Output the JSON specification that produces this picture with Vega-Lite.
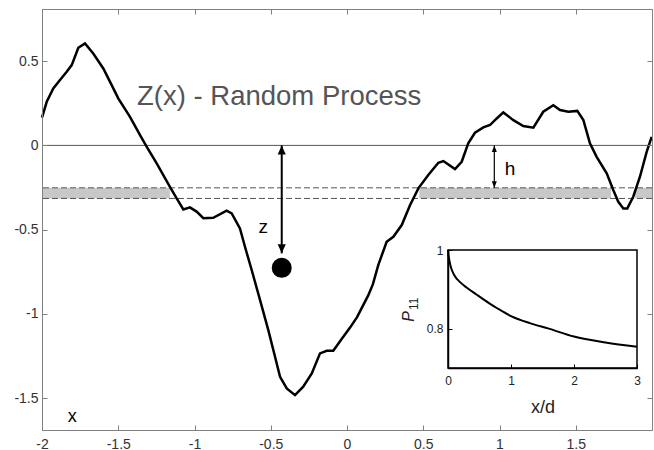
{
  "$schema": "https://vega.github.io/schema/vega-lite/v6.json",
  "width": 610,
  "height": 421,
  "autosize": {"type": "none"},
  "padding": {"left": 42, "top": 9, "right": 2, "bottom": 20},
  "background": "white",
  "config": {"view": {"stroke": "#808080", "strokeWidth": 1}, "font": "Liberation Sans", "axis": {"grid": false}},
  "datasets": {
    "process": [
      {"x": -2.0, "z": 0.165}, {"x": -1.969, "z": 0.259}, {"x": -1.926, "z": 0.338}, {"x": -1.882, "z": 0.388},
      {"x": -1.838, "z": 0.437}, {"x": -1.805, "z": 0.477}, {"x": -1.762, "z": 0.58}, {"x": -1.718, "z": 0.606},
      {"x": -1.664, "z": 0.546}, {"x": -1.598, "z": 0.457}, {"x": -1.543, "z": 0.358}, {"x": -1.5, "z": 0.279},
      {"x": -1.423, "z": 0.17}, {"x": -1.357, "z": 0.061}, {"x": -1.313, "z": -0.008}, {"x": -1.248, "z": -0.107},
      {"x": -1.161, "z": -0.246}, {"x": -1.117, "z": -0.315}, {"x": -1.073, "z": -0.38}, {"x": -1.03, "z": -0.368},
      {"x": -0.986, "z": -0.393}, {"x": -0.942, "z": -0.432}, {"x": -0.877, "z": -0.43}, {"x": -0.789, "z": -0.388},
      {"x": -0.756, "z": -0.404}, {"x": -0.702, "z": -0.493}, {"x": -0.669, "z": -0.602}, {"x": -0.625, "z": -0.74},
      {"x": -0.57, "z": -0.919}, {"x": -0.516, "z": -1.097}, {"x": -0.472, "z": -1.255}, {"x": -0.439, "z": -1.374},
      {"x": -0.395, "z": -1.443}, {"x": -0.341, "z": -1.483}, {"x": -0.287, "z": -1.433}, {"x": -0.231, "z": -1.354},
      {"x": -0.177, "z": -1.235}, {"x": -0.133, "z": -1.22}, {"x": -0.09, "z": -1.219}, {"x": -0.035, "z": -1.15},
      {"x": 0.02, "z": -1.082}, {"x": 0.066, "z": -1.02}, {"x": 0.14, "z": -0.889}, {"x": 0.17, "z": -0.824},
      {"x": 0.205, "z": -0.711}, {"x": 0.26, "z": -0.572}, {"x": 0.304, "z": -0.543}, {"x": 0.359, "z": -0.473},
      {"x": 0.413, "z": -0.355}, {"x": 0.468, "z": -0.255}, {"x": 0.533, "z": -0.176}, {"x": 0.599, "z": -0.103},
      {"x": 0.632, "z": -0.093}, {"x": 0.708, "z": -0.141}, {"x": 0.752, "z": -0.097}, {"x": 0.795, "z": 0.012},
      {"x": 0.839, "z": 0.075}, {"x": 0.894, "z": 0.107}, {"x": 0.938, "z": 0.121}, {"x": 0.982, "z": 0.16},
      {"x": 1.025, "z": 0.196}, {"x": 1.091, "z": 0.15}, {"x": 1.156, "z": 0.115}, {"x": 1.222, "z": 0.105},
      {"x": 1.287, "z": 0.2}, {"x": 1.353, "z": 0.239}, {"x": 1.397, "z": 0.21}, {"x": 1.451, "z": 0.2},
      {"x": 1.51, "z": 0.205}, {"x": 1.55, "z": 0.15}, {"x": 1.593, "z": 0.012}, {"x": 1.637, "z": -0.068},
      {"x": 1.703, "z": -0.166}, {"x": 1.746, "z": -0.265}, {"x": 1.779, "z": -0.335}, {"x": 1.812, "z": -0.374},
      {"x": 1.838, "z": -0.374}, {"x": 1.877, "z": -0.305}, {"x": 1.921, "z": -0.186}, {"x": 1.965, "z": -0.038},
      {"x": 1.998, "z": 0.051}
    ],
    "p11": [
      {"xd": 0, "p": 1.0}, {"xd": 0.01, "p": 0.985}, {"xd": 0.03, "p": 0.967}, {"xd": 0.05, "p": 0.954},
      {"xd": 0.1, "p": 0.936}, {"xd": 0.2, "p": 0.917}, {"xd": 0.3, "p": 0.904}, {"xd": 0.45, "p": 0.887},
      {"xd": 0.65, "p": 0.865}, {"xd": 0.8, "p": 0.85}, {"xd": 1.0, "p": 0.832}, {"xd": 1.3, "p": 0.814},
      {"xd": 1.6, "p": 0.8}, {"xd": 2.0, "p": 0.78}, {"xd": 2.5, "p": 0.765}, {"xd": 3.0, "p": 0.754}
    ],
    "band": [
      {"x0": -2.0, "x1": -1.161}, {"x0": 0.474, "x1": 1.731}, {"x0": 1.889, "x1": 2.0}
    ],
    "levels": [{"level": -0.252}, {"level": -0.315}],
    "one": [{}]
  },
  "layer": [
    {
      "data": {"name": "band"},
      "mark": {"type": "rect", "color": "#c8c8c8"},
      "encoding": {
        "x": {"field": "x0", "type": "quantitative", "scale": {"domain": [-2, 2], "nice": false, "zero": false},
          "axis": {"orient": "top", "labels": false, "tickSize": -5, "values": [-2, -1.5, -1, -0.5, 0, 0.5, 1, 1.5], "title": null, "domainColor": "#808080", "tickColor": "#808080", "zindex": 1}},
        "x2": {"field": "x1"},
        "y": {"datum": -0.252, "axis": null, "scale": {"domain": [-1.69, 0.81], "nice": false, "zero": false}},
        "y2": {"datum": -0.315}
      }
    },
    {
      "data": {"name": "levels"},
      "mark": {"type": "rule", "color": "#555555", "strokeWidth": 1, "strokeDash": [6, 3]},
      "encoding": {
        "y": {"field": "level", "type": "quantitative", "scale": {"domain": [-1.69, 0.81], "nice": false, "zero": false},
          "axis": {"orient": "right", "labels": false, "tickSize": -5, "values": [0.5, 0, -0.5, -1, -1.5], "title": null, "domainColor": "#808080", "tickColor": "#808080", "zindex": 1}}
      }
    },
    {
      "data": {"name": "one"},
      "mark": {"type": "rule", "color": "#555555", "strokeWidth": 1},
      "encoding": {"y": {"datum": 0, "axis": null, "scale": {"domain": [-1.69, 0.81], "nice": false, "zero": false}}}
    },
    {
      "data": {"name": "process"},
      "mark": {"type": "line", "color": "black", "strokeWidth": 2.5},
      "encoding": {
        "x": {"field": "x", "type": "quantitative", "scale": {"domain": [-2, 2], "nice": false, "zero": false},
          "axis": {"orient": "bottom", "values": [-2, -1.5, -1, -0.5, 0, 0.5, 1, 1.5], "tickSize": -5, "labelPadding": 12, "labelExpr": "'' + datum.value", "title": null, "domainColor": "#808080", "tickColor": "#808080", "labelColor": "#333333", "labelFontSize": 14, "labelFont": "Liberation Sans", "labelFlush": false, "labelOverlap": false, "zindex": 1}},
        "y": {"field": "z", "type": "quantitative", "scale": {"domain": [-1.69, 0.81], "nice": false, "zero": false},
          "axis": {"orient": "left", "values": [0.5, 0, -0.5, -1, -1.5], "tickSize": -5, "labelPadding": 9, "labelExpr": "'' + datum.value", "title": null, "domainColor": "#808080", "tickColor": "#808080", "labelColor": "#333333", "labelFontSize": 14, "labelFont": "Liberation Sans", "labelFlush": false, "labelOverlap": false, "zindex": 1}}
      }
    },
    {
      "data": {"name": "one"},
      "mark": {"type": "rule", "color": "black", "strokeWidth": 2},
      "encoding": {
        "x": {"datum": -0.428, "axis": null, "scale": {"domain": [-2, 2], "nice": false, "zero": false}},
        "y": {"datum": 0, "axis": null, "scale": {"domain": [-1.69, 0.81], "nice": false, "zero": false}},
        "y2": {"datum": -0.641}
      }
    },
    {
      "data": {"name": "one"},
      "mark": {"type": "point", "shape": "M0,0L-0.9,2L0.9,2Z", "filled": true, "color": "black", "size": 81, "opacity": 1, "strokeWidth": 0},
      "encoding": {
        "x": {"datum": -0.428, "axis": null, "scale": {"domain": [-2, 2], "nice": false, "zero": false}},
        "y": {"datum": 0, "axis": null, "scale": {"domain": [-1.69, 0.81], "nice": false, "zero": false}}
      }
    },
    {
      "data": {"name": "one"},
      "mark": {"type": "point", "shape": "M0,0L-0.9,-2L0.9,-2Z", "filled": true, "color": "black", "size": 81, "opacity": 1, "strokeWidth": 0},
      "encoding": {
        "x": {"datum": -0.428, "axis": null, "scale": {"domain": [-2, 2], "nice": false, "zero": false}},
        "y": {"datum": -0.641, "axis": null, "scale": {"domain": [-1.69, 0.81], "nice": false, "zero": false}}
      }
    },
    {
      "data": {"name": "one"},
      "mark": {"type": "rule", "color": "black", "strokeWidth": 1.2},
      "encoding": {
        "x": {"datum": 0.966, "axis": null, "scale": {"domain": [-2, 2], "nice": false, "zero": false}},
        "y": {"datum": 0, "axis": null, "scale": {"domain": [-1.69, 0.81], "nice": false, "zero": false}},
        "y2": {"datum": -0.252}
      }
    },
    {
      "data": {"name": "one"},
      "mark": {"type": "point", "shape": "M0,0L-0.75,2L0.75,2Z", "filled": true, "color": "black", "size": 45, "opacity": 1, "strokeWidth": 0},
      "encoding": {
        "x": {"datum": 0.966, "axis": null, "scale": {"domain": [-2, 2], "nice": false, "zero": false}},
        "y": {"datum": 0, "axis": null, "scale": {"domain": [-1.69, 0.81], "nice": false, "zero": false}}
      }
    },
    {
      "data": {"name": "one"},
      "mark": {"type": "point", "shape": "M0,0L-0.75,-2L0.75,-2Z", "filled": true, "color": "black", "size": 45, "opacity": 1, "strokeWidth": 0},
      "encoding": {
        "x": {"datum": 0.966, "axis": null, "scale": {"domain": [-2, 2], "nice": false, "zero": false}},
        "y": {"datum": -0.252, "axis": null, "scale": {"domain": [-1.69, 0.81], "nice": false, "zero": false}}
      }
    },
    {
      "data": {"name": "one"},
      "mark": {"type": "point", "shape": "circle", "filled": true, "color": "black", "size": 400, "opacity": 1, "strokeWidth": 0},
      "encoding": {
        "x": {"datum": -0.428, "axis": null, "scale": {"domain": [-2, 2], "nice": false, "zero": false}},
        "y": {"datum": -0.727, "axis": null, "scale": {"domain": [-1.69, 0.81], "nice": false, "zero": false}}
      }
    },
    {
      "data": {"name": "one"},
      "mark": {"type": "text", "text": "Z(x) - Random Process", "align": "left", "baseline": "alphabetic", "fontSize": 27.5, "color": "#555555", "font": "Liberation Sans"},
      "encoding": {
        "x": {"datum": -1.377, "axis": null, "scale": {"domain": [-2, 2], "nice": false, "zero": false}},
        "y": {"datum": 0.238, "axis": null, "scale": {"domain": [-1.69, 0.81], "nice": false, "zero": false}}
      }
    },
    {
      "data": {"name": "one"},
      "mark": {"type": "text", "text": "z", "align": "center", "baseline": "alphabetic", "fontSize": 19, "color": "black", "font": "Liberation Sans"},
      "encoding": {
        "x": {"datum": -0.549, "axis": null, "scale": {"domain": [-2, 2], "nice": false, "zero": false}},
        "y": {"datum": -0.523, "axis": null, "scale": {"domain": [-1.69, 0.81], "nice": false, "zero": false}}
      }
    },
    {
      "data": {"name": "one"},
      "mark": {"type": "text", "text": "h", "align": "center", "baseline": "alphabetic", "fontSize": 19, "color": "black", "font": "Liberation Sans"},
      "encoding": {
        "x": {"datum": 1.069, "axis": null, "scale": {"domain": [-2, 2], "nice": false, "zero": false}},
        "y": {"datum": -0.176, "axis": null, "scale": {"domain": [-1.69, 0.81], "nice": false, "zero": false}}
      }
    },
    {
      "data": {"name": "one"},
      "mark": {"type": "text", "text": "x", "align": "center", "baseline": "alphabetic", "fontSize": 18, "color": "black", "font": "Liberation Sans"},
      "encoding": {
        "x": {"datum": -1.801, "axis": null, "scale": {"domain": [-2, 2], "nice": false, "zero": false}},
        "y": {"datum": -1.645, "axis": null, "scale": {"domain": [-1.69, 0.81], "nice": false, "zero": false}}
      }
    },
    {
      "data": {"name": "one"},
      "mark": {"type": "rect", "fill": "white", "stroke": "black", "strokeWidth": 1.5},
      "encoding": {
        "x": {"datum": 0, "axis": null, "scale": {"domain": [0, 3], "range": [406, 595], "nice": false, "zero": false}},
        "x2": {"datum": 3},
        "y": {"datum": 0.7, "axis": null, "scale": {"domain": [0.7, 1], "range": [359, 241], "nice": false, "zero": false}},
        "y2": {"datum": 1}
      }
    },
    {
      "data": {"name": "p11"},
      "mark": {"type": "line", "color": "black", "strokeWidth": 2, "interpolate": "monotone"},
      "encoding": {
        "x": {"field": "xd", "type": "quantitative", "scale": {"domain": [0, 3], "range": [406, 595], "nice": false, "zero": false},
          "axis": {"orient": "bottom", "offset": -62, "values": [0, 1, 2, 3], "tickSize": -4, "labelPadding": 11, "labelExpr": "'' + datum.value", "title": "x/d", "titleFontSize": 18, "titleFontWeight": "normal", "titleColor": "#222222", "titleFont": "Liberation Sans", "titlePadding": 12, "domainColor": "black", "domainWidth": 1.5, "tickColor": "black", "labelColor": "#222222", "labelFontSize": 12, "labelFont": "Liberation Sans", "labelFlush": false, "labelOverlap": false, "zindex": 1}},
        "y": {"field": "p", "type": "quantitative", "scale": {"domain": [0.7, 1], "range": [359, 241], "nice": false, "zero": false},
          "axis": {"orient": "left", "offset": -406, "values": [0.8, 1], "tickSize": -4, "labelPadding": 9, "labelExpr": "'' + datum.value", "title": null, "domainColor": "black", "domainWidth": 1.5, "tickColor": "black", "labelColor": "#222222", "labelFontSize": 12, "labelFont": "Liberation Sans", "labelFlush": false, "labelOverlap": false, "zindex": 1}}
      }
    },
    {
      "data": {"name": "one"},
      "mark": {"type": "text", "text": "P", "angle": 270, "align": "center", "baseline": "middle", "fontSize": 16, "fontStyle": "italic", "color": "#222222", "font": "Liberation Sans"},
      "encoding": {
        "x": {"datum": -0.62, "axis": null, "scale": {"domain": [0, 3], "range": [406, 595], "nice": false, "zero": false}},
        "y": {"datum": 0.831, "axis": null, "scale": {"domain": [0.7, 1], "range": [359, 241], "nice": false, "zero": false}}
      }
    },
    {
      "data": {"name": "one"},
      "mark": {"type": "text", "text": "11", "angle": 270, "align": "center", "baseline": "middle", "fontSize": 12, "color": "#222222", "font": "Liberation Sans"},
      "encoding": {
        "x": {"datum": -0.545, "axis": null, "scale": {"domain": [0, 3], "range": [406, 595], "nice": false, "zero": false}},
        "y": {"datum": 0.863, "axis": null, "scale": {"domain": [0.7, 1], "range": [359, 241], "nice": false, "zero": false}}
      }
    }
  ],
  "resolve": {"scale": {"x": "independent", "y": "independent"}, "axis": {"x": "independent", "y": "independent"}}
}
